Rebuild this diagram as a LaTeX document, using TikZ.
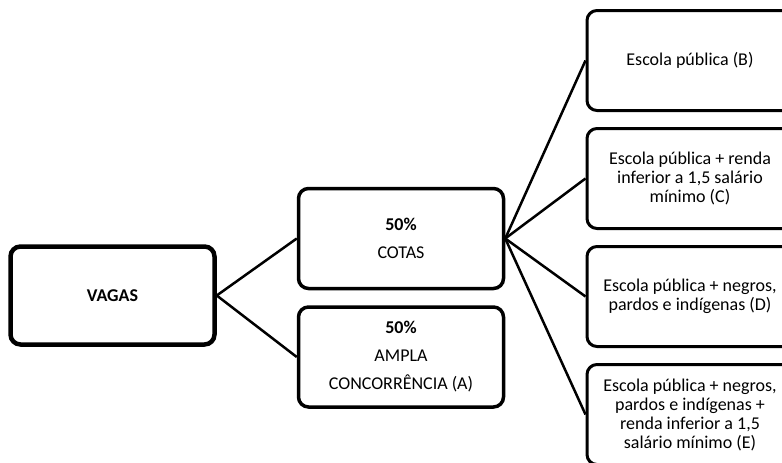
\documentclass[tikz,border=0pt]{standalone}
\usepackage{fontspec}
\setmainfont{Carlito}
\usetikzlibrary{positioning}

\begin{document}
\begin{tikzpicture}[
    x=1pt, y=-1pt,
    node distance=15pt and 80pt,
    mainbox/.style={draw, rounded corners=10pt, line width=4.5pt, align=center, minimum width=204pt, minimum height=98pt, font=\fontsize{18}{19}\selectfont\bfseries},
    box/.style={draw, rounded corners=10pt, line width=3.5pt, align=center, minimum width=205pt, minimum height=100pt, font=\fontsize{18}{28}\selectfont},
    leafbox/.style={draw, rounded corners=10pt, line width=3pt, align=center, minimum width=206pt, minimum height=100pt, font=\fontsize{18}{19}\selectfont},
    line/.style={line width=2.5pt}
]
\useasboundingbox[fill=white] (0,0) rectangle (782,463);

\node[mainbox] (vagas) at (112.5,295.5) {VAGAS};

\node[box] (cotas) at (401,238.5) {\textbf{50\%}\\COTAS};
\node[box, below=of cotas] (ampla) {\textbf{50\%}\\AMPLA\\CONCORRÊNCIA (A)};

\node[leafbox] (esc) at (690,60.5) {Escola pública (B)};
\node[leafbox, below=of esc] (renda) {Escola pública + renda\\inferior a 1,5 salário\\mínimo (C)};
\node[leafbox, below=of renda] (ppi) {Escola pública + negros,\\pardos e indígenas (D)};
\node[leafbox, below=of ppi] (ppirenda) {Escola pública + negros,\\pardos e indígenas +\\renda inferior a 1,5\\salário mínimo (E)};

\draw[line] (vagas.east) -- (cotas.west);
\draw[line] (vagas.east) -- (ampla.west);
\foreach \n in {esc,renda,ppi,ppirenda}
    \draw[line] (cotas.east) -- (\n.west);
\end{tikzpicture}
\end{document}
